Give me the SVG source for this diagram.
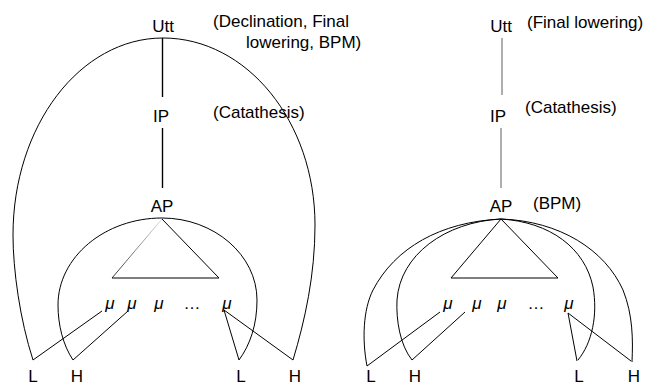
<svg xmlns="http://www.w3.org/2000/svg" width="651" height="387" viewBox="0 0 651 387">
  <defs>
    <style>
      text { font-family: "Liberation Sans", Arial, sans-serif; font-size: 17px; fill: #000; }
      .mid { text-anchor: middle; }
      .mu { font-style: italic; text-anchor: middle; }
      .ln { fill: none; stroke: #000; stroke-width: 1; }
      .arc { fill: none; stroke: #000; stroke-width: 1; }
      .stem { fill: none; stroke: #000; stroke-width: 1.4; }
      .stem-grey { fill: none; stroke: #9a9a9a; stroke-width: 1.6; }
      .tri { fill: none; stroke: #000; stroke-width: 1; }
    </style>
    <linearGradient id="fadeEdge" x1="0" y1="0" x2="0" y2="1">
      <stop offset="0" stop-color="#e0e0e0"/>
      <stop offset="1" stop-color="#333"/>
    </linearGradient>
  </defs>

  <rect width="651" height="387" fill="#fff"/>

  <!-- Left tree: every level scaled -->
  <g id="left-utt">
    <text class="mid" x="163" y="32">Utt</text>
    <text x="213" y="27">(Declination, Final</text>
    <text x="246" y="48">lowering, BPM)</text>
  </g>
  <g id="left-ip">
    <text class="mid" x="161" y="122">IP</text>
    <text x="213" y="118">(Catathesis)</text>
  </g>
  <g id="left-ap">
    <text class="mid" x="162" y="212">AP</text>
  </g>
  <g id="left-triangle">
    <path d="M162,219 L112,278" fill="none" stroke="url(#fadeEdge)" stroke-width="1"/>
    <path class="tri" d="M112,278 L219,278 L162,219"/>
  </g>
  <g id="left-mu">
    <text class="mu" x="110" y="309">μ</text>
    <text class="mu" x="132" y="309">μ</text>
    <text class="mu" x="159" y="309">μ</text>
    <text class="mid" x="192" y="309">…</text>
    <text class="mu" x="227" y="309">μ</text>
  </g>
  <g id="left-tones">
    <text class="mid" x="33" y="382">L</text>
    <text class="mid" x="77" y="382">H</text>
    <text class="mid" x="241" y="382">L</text>
    <text class="mid" x="295" y="382">H</text>
  </g>

  <!-- Right tree: Utt and IP scale, AP boundary tones -->
  <g id="right-utt">
    <text class="mid" x="501" y="32">Utt</text>
    <text x="527" y="28">(Final lowering)</text>
  </g>
  <g id="right-ip">
    <text class="mid" x="498" y="122">IP</text>
    <text x="525" y="113">(Catathesis)</text>
  </g>
  <g id="right-ap">
    <text class="mid" x="501" y="212">AP</text>
    <text x="533" y="209">(BPM)</text>
  </g>
  <g id="right-triangle">
    <path class="tri" d="M501,219 L451,278 L558,278 Z"/>
  </g>
  <g id="right-mu">
    <text class="mu" x="448" y="309">μ</text>
    <text class="mu" x="477" y="309">μ</text>
    <text class="mu" x="502" y="309">μ</text>
    <text class="mid" x="536" y="309">…</text>
    <text class="mu" x="569" y="309">μ</text>
  </g>
  <g id="right-tones">
    <text class="mid" x="371" y="382">L</text>
    <text class="mid" x="415" y="382">H</text>
    <text class="mid" x="579" y="382">L</text>
    <text class="mid" x="634" y="382">H</text>
  </g>

  <g id="connectors">
    <!-- left: stems -->
    <line class="stem" x1="162.5" y1="38" x2="162.5" y2="97"/>
    <line class="stem" x1="162.5" y1="128" x2="162.5" y2="188"/>
    <!-- left: Utt scope arc (L ... H) -->
    <path class="arc" d="M33,360 C20,320 13,270 13,235 C13,126 80,38 163,38 C247,38 315,122 315,225 C315,275 305,320 293,360"/>
    <!-- left: AP scope arc (H ... L) -->
    <path class="arc" d="M73,360 C63,345 58,325 58,305 C58,257 105,218 162,218 C214,218 257,255 257,300 C257,325 250,345 239,360"/>
    <!-- left: tone association lines -->
    <line class="ln" x1="33" y1="360" x2="102" y2="311"/>
    <line class="ln" x1="73" y1="360" x2="128" y2="311"/>
    <line class="ln" x1="224" y1="310" x2="239" y2="360"/>
    <line class="ln" x1="224" y1="310" x2="293" y2="360"/>

    <!-- right: stems -->
    <line class="stem-grey" x1="502" y1="38" x2="502" y2="95"/>
    <line class="stem-grey" x1="501" y1="128" x2="501" y2="188"/>
    <!-- right: arcs meeting at the AP -->
    <path class="arc" d="M367,366 C362,340 363,310 373,290 C395,248 440,222 501,219 C560,221 605,250 623,290 C633,315 633,340 632,362"/>
    <path class="arc" d="M412,360 C400,345 396,320 397,300 C400,255 445,222 501,219 C550,222 585,248 593,287 C598,315 592,343 578,360"/>
    <!-- right: tone association lines -->
    <line class="ln" x1="367" y1="366" x2="440" y2="312"/>
    <line class="ln" x1="412" y1="360" x2="465" y2="312" stroke-width="0.8"/>
    <line class="ln" x1="568" y1="313" x2="577" y2="361"/>
    <line class="ln" x1="568" y1="313" x2="631" y2="361"/>
  </g>
</svg>
